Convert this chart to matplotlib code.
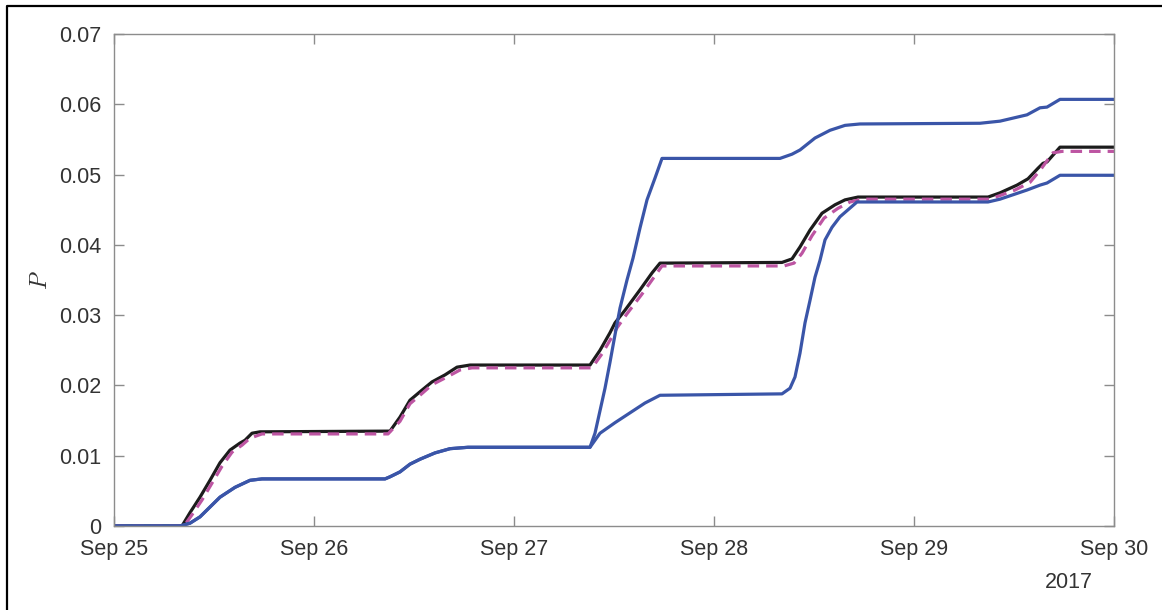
import matplotlib
matplotlib.use("Agg")
import matplotlib.pyplot as plt
import matplotlib.dates as mdates
from matplotlib.lines import Line2D
import pandas as pd

# ── data: hours after 2017-09-25 00:00 and probability P ──
T0 = pd.Timestamp("2017-09-25")

black_h = [0, 8.16, 9.12, 10.32, 11.52, 12.72, 13.92, 15.12, 15.72, 16.56, 17.52,
           33.12, 34.32, 35.52, 36.72, 38.16, 39.72, 41.16, 42.72,
           57.12, 58.32, 59.52, 60.12, 61.32, 63.12, 64.56, 65.52,
           80.16, 81.36, 82.32, 83.52, 84.96, 86.52, 87.72, 89.28,
           104.88, 106.32, 108.36, 109.68, 110.88, 111.48, 111.96, 113.52, 120]
black_p = [0, 0, 0.0019, 0.0041, 0.0065, 0.0090, 0.0108, 0.0118, 0.0122, 0.0132, 0.0134,
           0.0135, 0.0155, 0.0179, 0.0191, 0.0205, 0.0215, 0.0226, 0.0229,
           0.0229, 0.0250, 0.0275, 0.0289, 0.0307, 0.0336, 0.0360, 0.0374,
           0.0375, 0.0380, 0.0397, 0.0421, 0.0445, 0.0457, 0.0464, 0.0468,
           0.0468, 0.0474, 0.0485, 0.0494, 0.0509, 0.0516, 0.0518, 0.0539, 0.0539]

mag_h = [0, 8.4, 9.36, 10.56, 11.76, 12.96, 14.16, 15.36, 16.32, 17.76,
         32.88, 34.32, 35.52, 36.72, 38.16, 39.96, 41.52, 42.96,
         57.36, 58.56, 59.76, 60.36, 61.56, 63.36, 64.8, 65.76,
         80.4, 81.6, 82.56, 83.76, 85.2, 86.88, 88.32, 89.76,
         105.12, 108.12, 109.92, 111.12, 112.68, 113.76, 120]
mag_p = [0, 0, 0.0016, 0.0037, 0.0061, 0.0085, 0.0105, 0.0115, 0.0125, 0.0131,
         0.0131, 0.0149, 0.0174, 0.0186, 0.0201, 0.0212, 0.0222, 0.0225,
         0.0225, 0.0245, 0.0269, 0.0282, 0.0302, 0.0330, 0.0354, 0.0370,
         0.0370, 0.0374, 0.0388, 0.0413, 0.0438, 0.0452, 0.0461, 0.0465,
         0.0465, 0.0478, 0.0489, 0.0506, 0.0531, 0.0533, 0.0533]

upper_h = [0, 7.92, 9.12, 10.32, 11.52, 12.72, 14.52, 16.32, 17.76,
           32.52, 33.12, 34.32, 35.52, 36.72, 38.52, 40.32, 42.48,
           57.12, 57.72, 58.32, 58.92, 59.52, 60.12, 60.72, 61.56, 62.28, 63.12, 63.96, 64.92, 65.76,
           79.92, 81.36, 82.32, 84.12, 85.92, 87.72, 89.52,
           103.92, 106.32, 109.56, 111.12, 111.96, 113.52, 120]
upper_p = [0, 0, 0.0004, 0.0013, 0.0027, 0.0041, 0.0055, 0.0065, 0.0067,
           0.0067, 0.0070, 0.0077, 0.0088, 0.0095, 0.0104, 0.0110, 0.0112,
           0.0112, 0.0132, 0.0164, 0.0196, 0.0233, 0.0272, 0.0310, 0.0350, 0.0381, 0.0424, 0.0464, 0.0495, 0.0523,
           0.0523, 0.0529, 0.0535, 0.0552, 0.0563, 0.0570, 0.0572,
           0.0573, 0.0576, 0.0585, 0.0595, 0.0596, 0.0607, 0.0607]

lower_h = [0, 7.92, 9.12, 10.32, 11.52, 12.72, 14.52, 16.32, 17.76,
           32.52, 33.12, 34.32, 35.52, 36.72, 38.52, 40.32, 42.48,
           57.12, 58.32, 60.12, 61.92, 63.72, 65.52,
           80.16, 81.12, 81.72, 82.32, 82.92, 83.52, 84.12, 84.72, 85.32, 86.16, 87.12, 89.16,
           104.88, 106.32, 109.56, 111.12, 111.96, 113.52, 120]
lower_p = [0, 0, 0.0004, 0.0013, 0.0027, 0.0041, 0.0055, 0.0065, 0.0067,
           0.0067, 0.0070, 0.0077, 0.0088, 0.0095, 0.0104, 0.0110, 0.0112,
           0.0112, 0.0132, 0.0147, 0.0161, 0.0175, 0.0186,
           0.0188, 0.0196, 0.0212, 0.0246, 0.0289, 0.0321, 0.0354, 0.0378, 0.0407, 0.0425, 0.0440, 0.0461,
           0.0461, 0.0465, 0.0478, 0.0485, 0.0488, 0.0499, 0.0499]

y_ticks = [0, 0.01, 0.02, 0.03, 0.04, 0.05, 0.06, 0.07]
y_ticklabels = ["0", "0.01", "0.02", "0.03", "0.04", "0.05", "0.06", "0.07"]

BLUE = "#3a55a8"
BLACK = "#1c1c1c"
MAGENTA = "#bd55a2"
AXIS_GRAY = "#8c8c8c"
TEXT = "#333333"

plt.rcParams["font.family"] = ["Liberation Sans", "DejaVu Sans"]
plt.rcParams["mathtext.fontset"] = "cm"


def to_dates(hours):
    return T0 + pd.to_timedelta(hours, unit="h")


fig = plt.figure(figsize=(11.62, 6.10), dpi=100)
ax = fig.add_axes([114 / 1162, 1 - 526 / 610, 1000 / 1162, 492 / 610])

lw = 2.3
ax.plot(to_dates(black_h), black_p, color=BLACK, lw=lw, solid_joinstyle="round")
ax.plot(to_dates(mag_h), mag_p, color=MAGENTA, lw=lw, dashes=(3.6, 2.2))
ax.plot(to_dates(upper_h), upper_p, color=BLUE, lw=lw, solid_joinstyle="round")
ax.plot(to_dates(lower_h), lower_p, color=BLUE, lw=lw, solid_joinstyle="round")

ax.set_xlim(T0, T0 + pd.Timedelta(days=5))
ax.set_ylim(0, 0.07)
ax.set_yticks(y_ticks)
ax.set_yticklabels(y_ticklabels)
ax.xaxis.set_major_locator(mdates.DayLocator())
ax.xaxis.set_major_formatter(mdates.DateFormatter("%b %d"))

for s in ax.spines.values():
    s.set_color(AXIS_GRAY)
    s.set_linewidth(1.0)
ax.tick_params(axis="both", which="major", direction="in", length=7.5, width=1.0,
               color=AXIS_GRAY, labelcolor=TEXT, labelsize=15.5,
               top=True, right=True)
ax.tick_params(axis="x", pad=9)
ax.tick_params(axis="y", pad=9)

ax.set_ylabel("$P$", fontsize=17, color=TEXT, labelpad=5)
ax.text(1069 / 1162, 1 - 583 / 610, "2017", transform=fig.transFigure,
        ha="center", va="center", fontsize=15.5, color=TEXT)

# frame lines along the left and top edges of the figure
fig.add_artist(Line2D([7 / 1162, 7 / 1162, 1.0], [0.0, 1 - 6 / 610, 1 - 6 / 610],
                      transform=fig.transFigure, color="black", lw=1.6))

fig.savefig("out.png", dpi=100)
